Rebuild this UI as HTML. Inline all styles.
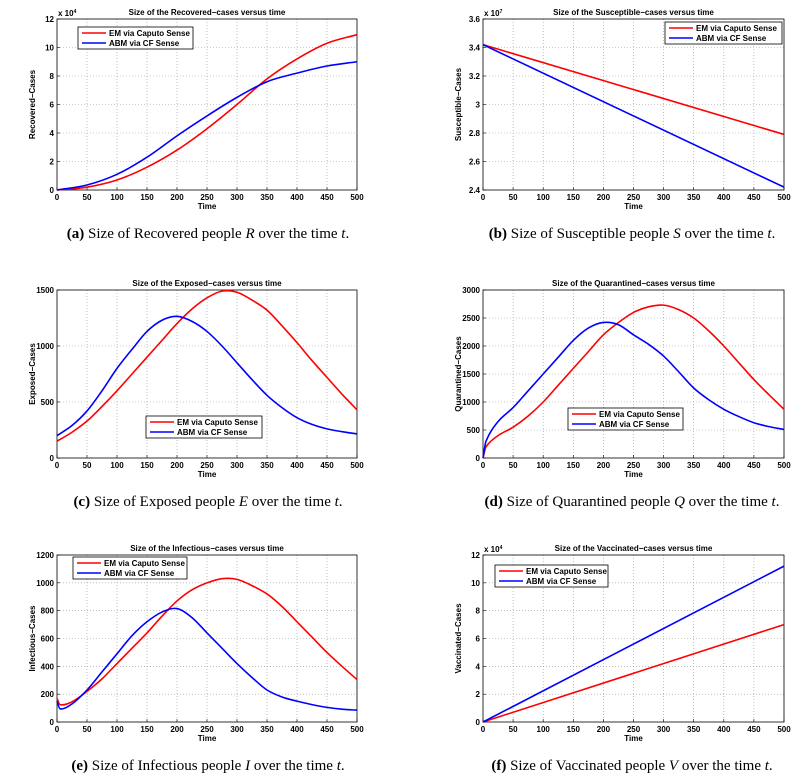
<!DOCTYPE html>
<html><head><meta charset="utf-8">
<style>
body{margin:0;background:#fff;}
svg{display:block;font-family:"Liberation Sans",Arial,sans-serif;}
.tick{font-size:8px;font-weight:bold;fill:#000;}
.ttl{font-size:8px;font-weight:bold;fill:#000;}
.cap{font-family:"Liberation Serif",serif;font-size:15px;fill:#000;}
</style></head><body>
<svg id="fig" width="812" height="783" viewBox="0 0 812 783"></svg>
<script>
// ---- data ----
const aT=[0,50,100,150,200,250,300,350,400,450,500];
const aEM=[0,0.2,0.7,1.6,2.8,4.3,6.0,7.8,9.2,10.3,10.9];
const aABM=[0,0.35,1.1,2.3,3.8,5.2,6.5,7.6,8.2,8.7,9.0];
const aYTicks=[0,2,4,6,8,10,12];
const bT=[0,500];
const bEM=[3.42,2.79];
const bABM=[3.42,2.42];
const bYTicks=[2.4,2.6,2.8,3,3.2,3.4,3.6];
const cT=[0,25,50,75,100,125,150,175,200,225,250,275,300,325,350,375,400,425,450,475,500];
const cEM=[150,230,330,460,600,750,900,1050,1200,1330,1430,1490,1480,1410,1320,1180,1030,870,720,570,430];
const cABM=[200,290,420,600,800,970,1130,1230,1265,1220,1130,1000,850,700,560,450,360,300,260,235,215];
const cYTicks=[0,500,1000,1500];
const dT=[0,5,25,50,75,100,125,150,175,200,225,250,275,300,325,350,375,400,425,450,475,500];
const dEM=[0,200,400,550,750,1000,1300,1600,1900,2200,2420,2600,2700,2730,2650,2500,2270,2000,1700,1400,1130,870];
const dABM=[0,300,650,900,1200,1500,1800,2100,2320,2420,2380,2200,2030,1820,1540,1250,1040,870,740,630,560,510];
const dYTicks=[0,500,1000,1500,2000,2500,3000];
const eT=[0,5,25,50,75,100,125,150,175,200,225,250,275,300,325,350,375,400,425,450,475,500];
const eEM=[170,125,145,220,310,420,530,640,760,870,950,1000,1030,1025,980,920,830,720,610,500,400,305];
const eABM=[150,95,130,230,360,490,620,720,790,815,750,640,530,420,320,230,180,150,125,105,92,85];
const eYTicks=[0,200,400,600,800,1000,1200];
const fT=[0,500];
const fEM=[0,7.0];
const fABM=[0,11.2];
const fYTicks=[0,2,4,6,8,10,12];
const xTicks=[0,50,100,150,200,250,300,350,400,450,500];
const legendLabels=["EM via Caputo Sense","ABM via CF Sense"];

const NS="http://www.w3.org/2000/svg";
const svg=document.getElementById('fig');
function mk(tag,at,parent){const e=document.createElementNS(NS,tag);for(const k in at)e.setAttribute(k,at[k]);(parent||svg).appendChild(e);return e;}
function smooth(pts){
  if(pts.length<3)return 'M'+pts.map(p=>p.join(',')).join('L');
  let d='M'+pts[0][0]+','+pts[0][1];
  for(let i=0;i<pts.length-1;i++){
    const p0=pts[i-1]||pts[i],p1=pts[i],p2=pts[i+1],p3=pts[i+2]||p2;
    const h=p2[0]-p1[0];
    const m1=(p2[1]-p0[1])/((p2[0]-p0[0])||1);
    const m2=(p3[1]-p1[1])/((p3[0]-p1[0])||1);
    const c1=[p1[0]+h/3,p1[1]+m1*h/3];
    const c2=[p2[0]-h/3,p2[1]-m2*h/3];
    d+='C'+c1.join(',')+' '+c2.join(',')+' '+p2.join(',');
  }
  return d;
}
function panel(id,L,R,T,B,yT,ylab,title,s1x,s1y,s2x,s2y,exp,leg,cap,capX){
  const g=mk('g',{});
  
  
  const y0=yT[0],y1=yT[yT.length-1];
  const X=v=>L+(v-0)/500*(R-L);
  const Y=v=>B-(v-y0)/(y1-y0)*(B-T);
  mk('rect',{x:L,y:T,width:R-L,height:B-T,fill:'#fff'},g);
  xTicks.forEach(t=>{
    if(t>0&&t<500)mk('line',{x1:X(t),x2:X(t),y1:T,y2:B,stroke:'#999','stroke-width':0.6,'stroke-dasharray':'1,2'},g);
    mk('line',{x1:X(t),x2:X(t),y1:B,y2:B-3,stroke:'#000','stroke-width':0.6},g);
    const tx=mk('text',{x:X(t),y:B+10,'text-anchor':'middle',class:'tick'},g);tx.textContent=t;
    
  });
  yT.forEach(t=>{
    if(t>y0&&t<y1)mk('line',{x1:L,x2:R,y1:Y(t),y2:Y(t),stroke:'#999','stroke-width':0.6,'stroke-dasharray':'1,2'},g);
    mk('line',{x1:L,x2:L+3,y1:Y(t),y2:Y(t),stroke:'#000','stroke-width':0.6},g);
    const tx=mk('text',{x:L-3,y:Y(t)+3,'text-anchor':'end',class:'tick'},g);tx.textContent=t;
    
  });
  mk('rect',{x:L,y:T,width:R-L,height:B-T,fill:'none',stroke:'#000','stroke-width':0.8},g);
  const p1=mk('path',{d:smooth(s1x.map((t,i)=>[X(t),Y(s1y[i])])),fill:'none',stroke:'#ff0000','stroke-width':1.6},g);
  
  const p2=mk('path',{d:smooth(s2x.map((t,i)=>[X(t),Y(s2y[i])])),fill:'none',stroke:'#0000ff','stroke-width':1.6},g);
  
  const tt=mk('text',{x:(L+R)/2,y:T-4,'text-anchor':'middle',class:'ttl'},g);tt.textContent=title;
  
  const xl=mk('text',{x:(L+R)/2,y:B+19,'text-anchor':'middle',class:'ttl'},g);xl.textContent='Time';
  
  const yl=mk('text',{x:0,y:0,'text-anchor':'middle',class:'ttl',transform:`translate(${L-22},${(T+B)/2}) rotate(-90)`},g);yl.textContent=ylab;
  
  if(exp){const ex=mk('text',{x:L+1,y:T-3,class:'tick','font-weight':'normal'},g);ex.innerHTML='x 10<tspan dy="-3" font-size="5">'+exp+'</tspan>';
    }
  const lg=mk('g',{},g);
  
  
  mk('rect',{x:leg[0],y:leg[1],width:leg[2],height:22,fill:'#fff',stroke:'#000','stroke-width':0.8},lg);
  ['#ff0000','#0000ff'].forEach((c,i)=>{
    const yy=leg[1]+6+i*10;
    mk('line',{x1:leg[0]+4,x2:leg[0]+28,y1:yy,y2:yy,stroke:c,'stroke-width':1.6},lg);
    const lt=mk('text',{x:leg[0]+31,y:yy+3,class:'tick'},lg);lt.textContent=legendLabels[i];
    
  });
  const ct=mk('text',{x:capX,y:B+48,'text-anchor':'middle',class:'cap'});ct.innerHTML=cap;
  
}
panel('panel-recovered',57,357,19,190,aYTicks,'Recovered\u2212Cases','Size of the Recovered\u2212cases versus time',aT,aEM,aT,aABM,'4',[78,27,115],'<tspan font-weight="bold">(a)</tspan> Size of Recovered people <tspan font-style="italic">R</tspan> over the time <tspan font-style="italic">t</tspan>.',208);
panel('panel-susceptible',483,784,19,190,bYTicks,'Susceptible\u2212Cases','Size of the Susceptible\u2212cases versus time',bT,bEM,bT,bABM,'7',[665,22,117],'<tspan font-weight="bold">(b)</tspan> Size of Susceptible people <tspan font-style="italic">S</tspan> over the time <tspan font-style="italic">t</tspan>.',632);
panel('panel-exposed',57,357,290,458,cYTicks,'Exposed\u2212Cases','Size of the Exposed\u2212cases versus time',cT,cEM,cT,cABM,null,[146,416,116],'<tspan font-weight="bold">(c)</tspan> Size of Exposed people <tspan font-style="italic">E</tspan> over the time <tspan font-style="italic">t</tspan>.',208);
panel('panel-quarantined',483,784,290,458,dYTicks,'Quarantined\u2212Cases','Size of the Quarantined\u2212cases versus time',dT,dEM,dT,dABM,null,[568,408,115],'<tspan font-weight="bold">(d)</tspan> Size of Quarantined people <tspan font-style="italic">Q</tspan> over the time <tspan font-style="italic">t</tspan>.',632);
panel('panel-infectious',57,357,555,722,eYTicks,'Infectious\u2212Cases','Size of the Infectious\u2212cases versus time',eT,eEM,eT,eABM,null,[73,557,114],'<tspan font-weight="bold">(e)</tspan> Size of Infectious people <tspan font-style="italic">I</tspan> over the time <tspan font-style="italic">t</tspan>.',208);
panel('panel-vaccinated',483,784,555,722,fYTicks,'Vaccinated\u2212Cases','Size of the Vaccinated\u2212cases versus time',fT,fEM,fT,fABM,'4',[495,565,113],'<tspan font-weight="bold">(f)</tspan> Size of Vaccinated people <tspan font-style="italic">V</tspan> over the time <tspan font-style="italic">t</tspan>.',632);
</script>
</body></html>
